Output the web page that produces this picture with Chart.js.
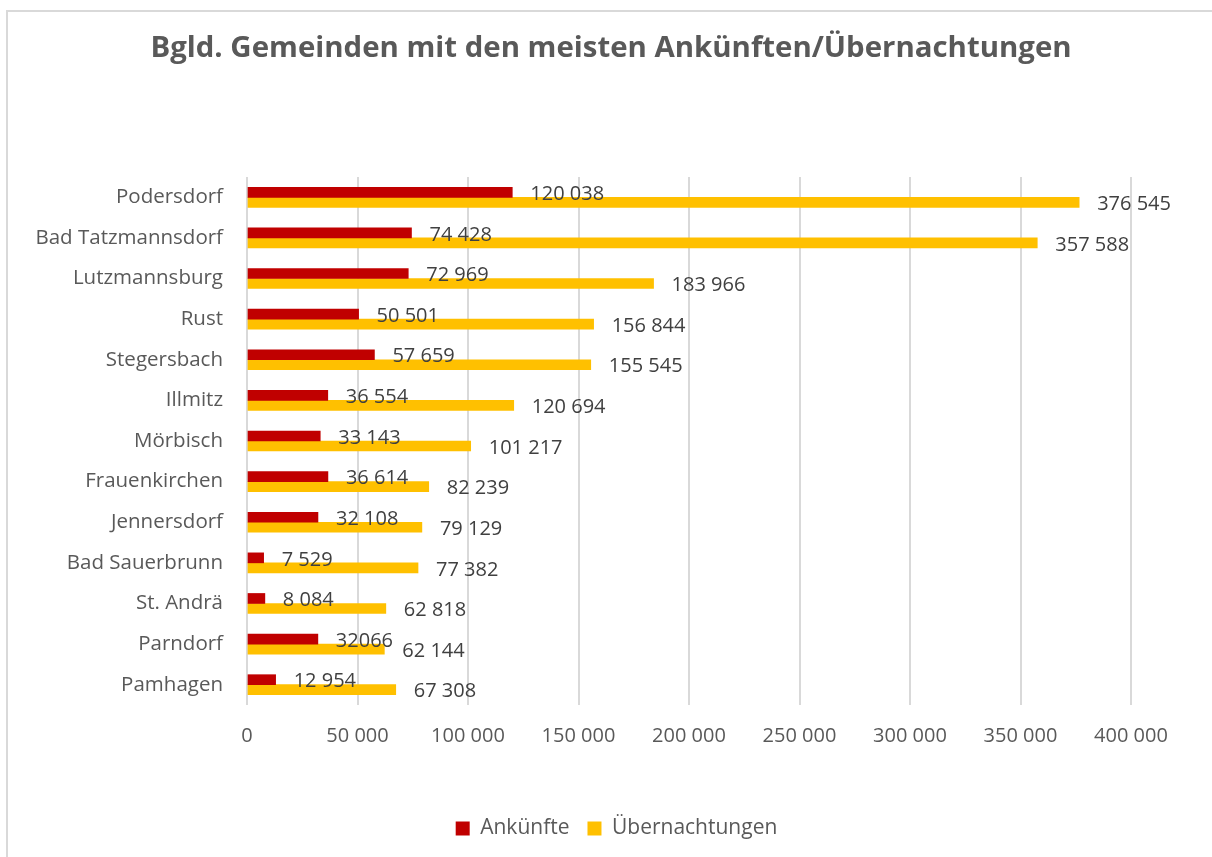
<!DOCTYPE html>
<html>
<head>
<meta charset="utf-8">
<script src="https://cdn.jsdelivr.net/npm/chart.js@4.4.1/dist/chart.umd.min.js"></script>
<style>
  html, body { margin: 0; padding: 0; background: #fff; }
  #wrap { position: relative; width: 1212px; height: 857px; overflow: hidden; }
  #frame { position: absolute; left: 6px; top: 10px; width: 1220px; height: 860px; border: 2px solid #d9d9d9; box-sizing: border-box; }
  #chart { position: absolute; left: 0; top: 0; }
</style>
</head>
<body>
<div id="wrap">
  <div id="frame"></div>
  <canvas id="chart" width="1212" height="857"></canvas>
</div>
<script>
var gemeinden = ["Podersdorf", "Bad Tatzmannsdorf", "Lutzmannsburg", "Rust", "Stegersbach", "Illmitz",
    "Mörbisch", "Frauenkirchen", "Jennersdorf", "Bad Sauerbrunn", "St. Andrä", "Parndorf", "Pamhagen"];
var ankuenfte = [120038, 74428, 72969, 50501, 57659, 36554, 33143, 36614, 32108, 7529, 8084, 32066, 12954];
var uebernachtungen = [376545, 357588, 183966, 156844, 155545, 120694, 101217, 82239, 79129, 77382, 62818, 62144, 67308];
var xTicks = [0, 50000, 100000, 150000, 200000, 250000, 300000, 350000, 400000];
var titel = "Bgld. Gemeinden mit den meisten Ankünften/Übernachtungen";

var grey = "#595959";
var font = "'Open Sans', sans-serif";

// Zahl mit Leerzeichen als Tausendertrennzeichen
function fmt(v) {
    return String(v).replace(/\B(?=(\d{3})+(?!\d))/g, " ");
}
// im Original steht dieser Wert ohne Trennzeichen
var ohneTrenner = { 0: { 11: true } };

var titlePlugin = {
    id: "titel",
    afterLayout: function(chart) {
        // Legende wie im Original etwas nach rechts schieben
        chart.legend.left += 51;
        chart.legend.right += 51;
    },
    afterDraw: function(chart) {
        var ctx = chart.ctx;
        ctx.save();
        ctx.font = "bold 29.4px " + font;
        ctx.fillStyle = grey;
        ctx.textAlign = "center";
        ctx.textBaseline = "middle";
        ctx.fillText(titel, 611, 49);
        ctx.restore();
    }
};

var valuePlugin = {
    id: "werte",
    afterDatasetsDraw: function(chart) {
        var ctx = chart.ctx;
        ctx.save();
        ctx.font = "20px " + font;
        ctx.fillStyle = "#404040";
        ctx.textAlign = "left";
        ctx.textBaseline = "middle";
        chart.data.datasets.forEach(function(ds, di) {
            var meta = chart.getDatasetMeta(di);
            meta.data.forEach(function(bar, i) {
                var txt = (ohneTrenner[di] && ohneTrenner[di][i]) ? String(ds.data[i]) : fmt(ds.data[i]);
                ctx.fillText(txt, bar.x + 18, bar.y + 2);
            });
        });
        ctx.restore();
    }
};

var config = {
    type: "bar",
    data: {
        labels: gemeinden,
        datasets: [{
            label: "Ankünfte",
            data: ankuenfte,
            backgroundColor: "#c00000",
            barThickness: 10
        }, {
            label: "Übernachtungen",
            data: uebernachtungen,
            backgroundColor: "#ffc000",
            barThickness: 10
        }]
    },
    options: {
        indexAxis: "y",
        responsive: false,
        animation: false,
        layout: { padding: { top: 177, right: 81, bottom: 8, left: 0 } },
        plugins: {
            title: { display: false },
            tooltip: { enabled: false },
            legend: {
                position: "bottom",
                labels: {
                    color: grey,
                    font: { family: font, size: 21 },
                    boxWidth: 14,
                    boxHeight: 14,
                    padding: 18
                }
            }
        },
        scales: {
            x: {
                min: 0,
                max: 400000,
                afterBuildTicks: function(scale) {
                    scale.ticks = xTicks.map(function(v) { return { value: v }; });
                },
                afterFit: function(scale) { scale.height = 95; },
                grid: { color: "#d9d9d9", lineWidth: 2, drawTicks: false },
                border: { display: false },
                ticks: {
                    color: grey,
                    font: { family: font, size: 20 },
                    padding: 19,
                    maxRotation: 0,
                    callback: function(v) { return fmt(v); }
                }
            },
            y: {
                afterFit: function(scale) { scale.width = 247; },
                grid: { display: false, drawTicks: false },
                border: { display: false },
                ticks: {
                    color: grey,
                    font: { family: font, size: 20.5 },
                    padding: 24
                }
            }
        }
    },
    plugins: [titlePlugin, valuePlugin]
};

var ctx = document.getElementById("chart").getContext("2d");
window.chart = new Chart(ctx, config);
</script>
</body>
</html>
